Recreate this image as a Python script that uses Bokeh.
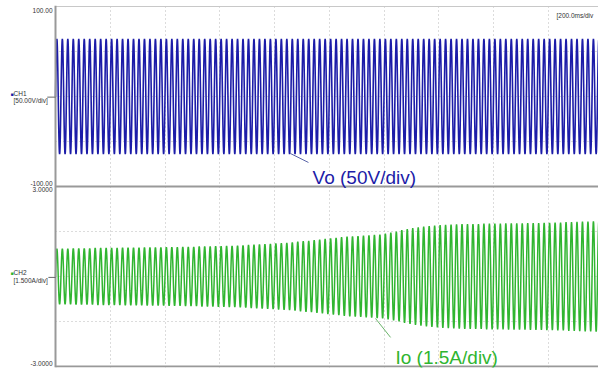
import numpy as np
from bokeh.plotting import figure
from bokeh.models import Label, Span, FixedTicker, Arrow, Range1d
from bokeh.embed import file_html
from bokeh.resources import INLINE

# ---- data ----
carrier_hz = 50.0          # 100 cycles over 10 divisions of 200 ms
n_cycles = 100
vo_peak = 64.0             # V, constant output voltage amplitude
# peak output current per cycle (A), read off the envelope
io_peaks = [
    0.93, 0.93, 0.93, 0.94, 0.94, 0.94, 0.94, 0.95, 0.95, 0.95,
    0.95, 0.95, 0.96, 0.96, 0.96, 0.96, 0.97, 0.97, 0.97, 0.97,
    0.98, 0.98, 0.98, 0.99, 0.99, 0.99, 1.00, 1.00, 1.00, 1.01,
    1.01, 1.02, 1.02, 1.03, 1.04, 1.05, 1.06, 1.07, 1.08, 1.09,
    1.10, 1.11, 1.12, 1.14, 1.16, 1.18, 1.19, 1.21, 1.23, 1.25,
    1.27, 1.29, 1.31, 1.33, 1.34, 1.35, 1.36, 1.37, 1.39, 1.40,
    1.43, 1.46, 1.50, 1.55, 1.58, 1.61, 1.64, 1.66, 1.68, 1.70,
    1.71, 1.72, 1.73, 1.74, 1.75, 1.75, 1.75, 1.75, 1.76, 1.76,
    1.76, 1.76, 1.77, 1.77, 1.77, 1.77, 1.78, 1.78, 1.78, 1.79,
    1.79, 1.80, 1.80, 1.81, 1.81, 1.82, 1.83, 1.83, 1.84, 1.85,
]
time_div = 0.2             # s/div
v_div = 50.0               # V/div
i_div = 1.5                # A/div
v_labels = ["100.00", "-100.00"]
i_labels = ["3.0000", "-3.0000"]

# ---- traces ----
spc = 24
t = np.arange(n_cycles * spc) / (spc * carrier_hz)
phase = 2 * np.pi * carrier_hz * t
vo = vo_peak * np.sin(phase)
io = np.repeat(np.array(io_peaks), spc) * np.sin(phase)

px_per_s = 54.75 / time_div
x_start = -55 / px_per_s
x_end = 543 / px_per_s
pad = 1 / 45.0             # one pixel, in divisions

BLUE = "#1c1ca8"
GREEN = "#30b530"
FONT = "Liberation Sans"
GRID = "#b8b8b8"
AXIS = "#999999"

p = figure(width=598, height=368, x_range=(x_start, x_end),
           y_range=(-4 - pad, 4 + pad),
           output_backend="svg", toolbar_location=None,
           min_border_left=0, min_border_right=0,
           min_border_top=5, min_border_bottom=1,
           x_axis_location=None, y_axis_location=None)
p.outline_line_color = None
p.background_fill_color = "white"
p.border_fill_color = "white"
p.ygrid.visible = False
p.xgrid.ticker = FixedTicker(ticks=list(np.arange(1, 10) * time_div))
p.xgrid.grid_line_color = GRID
p.xgrid.grid_line_dash = "1 3"

# each channel gets its own scale, 4 divisions tall
p.extra_y_ranges = {
    "v": Range1d(-2 * v_div - 4 * v_div - pad * v_div, 2 * v_div + pad * v_div),
    "i": Range1d(-2 * i_div - pad * i_div, 2 * i_div + 4 * i_div + pad * i_div),
}

# horizontal dotted grid per channel
for rn, d in (("v", v_div), ("i", i_div)):
    ys = [-d, 0, d]
    p.segment(x0=[0] * 3, x1=[x_end] * 3, y0=ys, y1=ys, y_range_name=rn,
              line_color=GRID, line_dash="1 3", line_width=1)

p.line(t, vo, line_color=BLUE, line_width=1.6, y_range_name="v")
p.line(t, io, line_color=GREEN, line_width=1.5, y_range_name="i")

# frame lines
p.add_layout(Span(location=0, dimension="height", line_color=AXIS, line_width=2))
p.segment(x0=[0], x1=[x_end], y0=[2 * v_div], y1=[2 * v_div], y_range_name="v",
          line_color="#c8c8c8", line_width=1)
p.segment(x0=[0], x1=[x_end], y0=[-2 * v_div], y1=[-2 * v_div], y_range_name="v",
          line_color=AXIS, line_width=2)
p.segment(x0=[0], x1=[x_end], y0=[-2 * i_div], y1=[-2 * i_div], y_range_name="i",
          line_color=AXIS, line_width=2)

small = dict(text_font=FONT, text_font_size="6.5px", text_color="#333333",
             text_baseline="middle")
p.add_layout(Label(x=0, y=95.6, x_offset=-3, text=v_labels[0], text_align="right",
                   y_range_name="v", **small))
p.add_layout(Label(x=0, y=-96.7, x_offset=-3, text=v_labels[1], text_align="right",
                   y_range_name="v", **small))
p.add_layout(Label(x=0, y=2.9, x_offset=-3, text=i_labels[0], text_align="right",
                   y_range_name="i", **small))
p.add_layout(Label(x=0, y=-2.9, x_offset=-3, text=i_labels[1], text_align="right",
                   y_range_name="i", **small))

# channel tags
p.add_layout(Label(x=0, y=3.3, x_offset=-45, text="■", text_align="left", y_range_name="v",
                   text_font=FONT, text_font_size="5px", text_color=BLUE, text_baseline="middle"))
p.add_layout(Label(x=0, y=3.3, x_offset=-42, text="CH1", text_align="left",
                   y_range_name="v", **small))
p.add_layout(Label(x=0, y=-3.9, x_offset=-42, text="[50.00V/div]", text_align="left",
                   y_range_name="v", **small))
p.add_layout(Arrow(end=None, x_start=-0.03, x_end=0, y_start=-0.7, y_end=-0.7,
                   y_range_name="v", line_color="#666666", line_width=1))
p.add_layout(Label(x=0, y=0.12, x_offset=-45, text="■", text_align="left", y_range_name="i",
                   text_font=FONT, text_font_size="5px", text_color=GREEN, text_baseline="middle"))
p.add_layout(Label(x=0, y=0.12, x_offset=-42, text="CH2", text_align="left",
                   y_range_name="i", **small))
p.add_layout(Label(x=0, y=-0.13, x_offset=-42, text="[1.500A/div]", text_align="left",
                   y_range_name="i", **small))
p.add_layout(Arrow(end=None, x_start=-0.026, x_end=0, y_start=-0.03, y_end=-0.03,
                   y_range_name="i", line_color="#666666", line_width=1))

p.add_layout(Label(x=1.830, y=90, text="[200.0ms/div", text_align="left",
                   y_range_name="v", **small))

# callouts
p.add_layout(Arrow(end=None, x_start=0.858, y_start=-63.3, x_end=0.924, y_end=-73.3,
                   y_range_name="v", line_color="#5a64a8", line_width=1))
p.add_layout(Label(x=0.939, y=-90, text="Vo (50V/div)", text_font=FONT, y_range_name="v",
                   text_font_size="19px", text_color=BLUE, text_baseline="alphabetic"))
p.add_layout(Arrow(end=None, x_start=1.169, y_start=-1.4, x_end=1.224, y_end=-2.03,
                   y_range_name="i", line_color="#6ab46a", line_width=1))
p.add_layout(Label(x=1.242, y=-2.7, text="Io (1.5A/div)", text_font=FONT, y_range_name="i",
                   text_font_size="19px", text_color=GREEN, text_baseline="alphabetic"))

open("out.html", "w").write(file_html(p, INLINE))
